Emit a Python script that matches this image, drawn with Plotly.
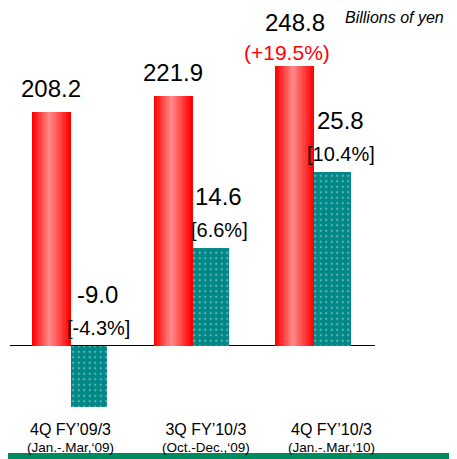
import plotly.graph_objects as go

# ---- data ----
categories = ["4Q FY’09/3", "3Q FY’10/3", "4Q FY’10/3"]
periods = ["(Jan.-.Mar,‘09)", "(Oct.-Dec.,‘09)", "(Jan.-.Mar,‘10)"]
sales = [208.2, 221.9, 248.8]
sales_growth = ["", "", "(+19.5%)"]
profit = [-9.0, 14.6, 25.8]
profit_margin = ["[-4.3%]", "[6.6%]", "[10.4%]"]

# ---- layout helpers (positions/styles) ----
label_dx = [0.0, 0.11, 0.14]
FONT = "Liberation Sans, Arial, sans-serif"
xs = list(range(len(categories)))
RW = 0.32   # red bar width
TW = 0.30   # teal bar width
TEAL = "#008787"

fig = go.Figure()

# red bars drawn as nested layers to imitate the horizontal gradient
N = 14
for i in range(N):
    f = i / N
    left = -RW + f * RW * 0.45
    right = 0 - f * RW * 0.55
    g = int(135 * f / (1 - 1 / N))
    col = f"rgb(255,{g},{g})"
    fig.add_trace(go.Bar(
        x=xs, y=sales, offset=left, width=right - left,
        marker=dict(color=col, line=dict(width=0)),
        hoverinfo="skip", showlegend=False, yaxis="y"))

fig.add_trace(go.Bar(
    x=xs, y=profit, offset=0.0, width=TW,
    marker=dict(color=TEAL,
                line=dict(width=0),
                pattern=dict(shape=".", fgcolor="#cfe8e8", bgcolor=TEAL,
                             size=5.5, solidity=0.12)),
    showlegend=False, yaxis="y2"))

ann = []
for i, (v, g) in enumerate(zip(sales, sales_growth)):
    cx = i - RW / 2
    if g:
        ann.append(dict(x=cx, y=v, xref="x", yref="y", text=g, showarrow=False,
                        yanchor="bottom", yshift=0, xshift=-8,
                        font=dict(family=FONT, size=21, color="#ff0000")))
    ann.append(dict(x=cx, y=v, xref="x", yref="y", text=f"{v:.1f}", showarrow=False,
                    yanchor="bottom", yshift=28 if g else 8,
                    font=dict(family=FONT, size=24, color="#000")))

for i, (v, m) in enumerate(zip(profit, profit_margin)):
    cx = i + TW / 2
    base = max(v, 0)
    ann.append(dict(x=cx, y=base, xref="x", yref="y2", text=m, showarrow=False,
                    yanchor="bottom", yshift=5, xshift=9,
                    font=dict(family=FONT, size=20, color="#000")))
    ann.append(dict(x=cx, y=base, xref="x", yref="y2", text=f"{v:.1f}", showarrow=False,
                    yanchor="bottom", yshift=36, xshift=8,
                    font=dict(family=FONT, size=24, color="#000")))

for i, (c, p) in enumerate(zip(categories, periods)):
    txt = (f"<span style='font-size:16px'>{c}</span><br>"
           f"<span style='font-size:13.5px'>{p}</span>")
    ann.append(dict(x=i + label_dx[i], y=-0.0474, xref="x", yref="paper", text=txt,
                    showarrow=False, yanchor="middle",
                    font=dict(family=FONT, size=12.7, color="#000")))

ann.append(dict(x=0.912, y=1.031, xref="paper", yref="paper", text="<i>Billions of yen</i>",
                showarrow=False, xanchor="left", yanchor="middle",
                font=dict(family=FONT, size=16, color="#000")))
ann.append(dict(x=1.2055, y=0.82, xref="paper", yref="paper", text="M",
                showarrow=False, xanchor="left", yanchor="middle",
                font=dict(family=FONT, size=15, color="#000")))

fig.update_layout(
    width=449, height=451,
    margin=dict(l=2, r=82, t=22, b=39, pad=0),
    paper_bgcolor="white", plot_bgcolor="white",
    barmode="overlay", bargap=0,
    xaxis=dict(range=[-0.5, 2.5], showticklabels=False, showgrid=False,
               zeroline=False, showline=False, ticks=""),
    yaxis=dict(range=[-65.8, 280.9], showticklabels=False, showgrid=False,
               zeroline=True, zerolinecolor="#000", zerolinewidth=1.2,
               showline=False, ticks=""),
    yaxis2=dict(range=[-10.98, 46.88], overlaying="y", showticklabels=False,
                showgrid=False, zeroline=False, showline=False, ticks=""),
    annotations=ann,
    shapes=[dict(type="rect", xref="paper", yref="paper",
                 x0=-0.01, x1=1.23, y0=-0.1, y1=-0.0846,
                 fillcolor="#008a60", line=dict(width=0), layer="above")],
    font=dict(family=FONT),
)

fig.write_html("out.html")
